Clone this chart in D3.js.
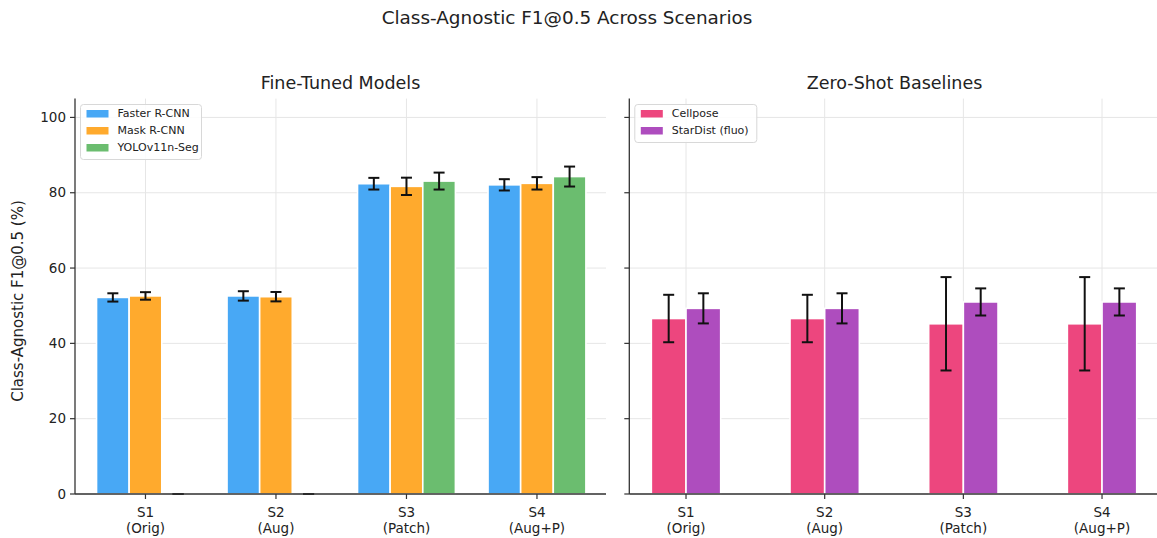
<!DOCTYPE html>
<html>
<head>
<meta charset="utf-8">
<script src="https://cdn.jsdelivr.net/npm/d3@7"></script>
<style>
  body { margin: 0; background: #fff; }
  svg { display: block; font-family: "DejaVu Sans", sans-serif; }
</style>
</head>
<body>
<svg id="chart" width="1157" height="538"></svg>
<script>
// Scenario categories (two-line tick labels)
const scenarios = ["S1", "S2", "S3", "S4"];
const scenarioSub = ["(Orig)", "(Aug)", "(Patch)", "(Aug+P)"];

// Fine-tuned models: mean F1@0.5 (%) and std
const ftModels = ["Faster R-CNN", "Mask R-CNN", "YOLOv11n-Seg"];
const ftColors = ["#42A5F5", "#FFA726", "#66BB6A"];
const fasterMean = [52.2, 52.6, 82.4, 82.1];
const fasterStd  = [1.1, 1.25, 1.55, 1.5];
const maskMean   = [52.6, 52.4, 81.7, 82.5];
const maskStd    = [1.0, 1.25, 2.3, 1.65];
const yoloMean   = [0, 0, 83.1, 84.3];
const yoloStd    = [0, 0, 2.25, 2.65];

// Zero-shot baselines
const zsModels = ["Cellpose", "StarDist (fluo)"];
const zsColors = ["#EC407A", "#AB47BC"];
const cellposeMean = [46.6, 46.6, 45.2, 45.2];
const cellposeStd  = [6.3, 6.3, 12.4, 12.4];
const stardistMean = [49.3, 49.3, 51.0, 51.0];
const stardistStd  = [4.0, 4.0, 3.6, 3.6];

const yTicks = [0, 20, 40, 60, 80, 100];

const svg = d3.select("#chart");
const plotTop = 98.6, plotBottom = 494;
const y = d3.scaleLinear().domain([0, 105]).range([plotBottom, plotTop]);

const textColor = "#222";
const spineColor = "#333";
const gridColor = "#e6e6e6";

// Figure title
svg.append("text")
  .attr("x", 567).attr("y", 24)
  .attr("text-anchor", "middle")
  .attr("font-size", 18.4).attr("fill", textColor)
  .text("Class-Agnostic F1@0.5 Across Scenarios");

// Shared y-axis label
svg.append("text")
  .attr("transform", `translate(23,301) rotate(-90)`)
  .attr("text-anchor", "middle")
  .attr("font-size", 15).attr("fill", textColor)
  .text("Class-Agnostic F1@0.5 (%)");

function panel(opts) {
  const { x0, x1, xDomain, title, titleX, series, showYLabels, legendWidth } = opts;
  const x = d3.scaleLinear().domain(xDomain).range([x0, x1]);
  const g = svg.append("g");
  const n = series.length;
  const bw = 0.25;

  // Grid
  g.append("g").selectAll("line").data(yTicks).join("line")
    .attr("x1", x0).attr("x2", x1)
    .attr("y1", d => y(d)).attr("y2", d => y(d))
    .attr("stroke", gridColor).attr("stroke-width", 1);
  g.append("g").selectAll("line").data(scenarios).join("line")
    .attr("x1", (d, i) => x(i)).attr("x2", (d, i) => x(i))
    .attr("y1", plotTop).attr("y2", plotBottom)
    .attr("stroke", gridColor).attr("stroke-width", 1);

  // Bars
  series.forEach((s, si) => {
    const off = (si - (n - 1) / 2) * bw;
    g.append("g").selectAll("rect").data(s.mean).join("rect")
      .attr("x", (d, i) => x(i + off - bw / 2))
      .attr("width", x(bw) - x(0))
      .attr("y", d => y(d))
      .attr("height", d => y(0) - y(d))
      .attr("fill", s.color).attr("fill-opacity", 0.97)
      .attr("stroke", "#fff").attr("stroke-width", 1.6);
  });

  // Error bars
  series.forEach((s, si) => {
    const off = (si - (n - 1) / 2) * bw;
    const eg = g.append("g");
    s.mean.forEach((m, i) => {
      const cx = x(i + off);
      const lo = y(m - s.std[i]), hi = y(m + s.std[i]);
      eg.append("line").attr("x1", cx).attr("x2", cx).attr("y1", lo).attr("y2", hi)
        .attr("stroke", "#111").attr("stroke-width", 2);
      [lo, hi].forEach(yy => eg.append("line")
        .attr("x1", cx - 5.5).attr("x2", cx + 5.5).attr("y1", yy).attr("y2", yy)
        .attr("stroke", "#111").attr("stroke-width", 2));
    });
  });

  // Spines
  g.append("line").attr("x1", x0).attr("x2", x0).attr("y1", plotTop).attr("y2", plotBottom)
    .attr("stroke", spineColor).attr("stroke-width", 1.3);
  g.append("line").attr("x1", x0).attr("x2", x1).attr("y1", plotBottom).attr("y2", plotBottom)
    .attr("stroke", spineColor).attr("stroke-width", 1.3);

  // Y ticks
  yTicks.forEach(t => {
    g.append("line").attr("x1", x0 - 5).attr("x2", x0).attr("y1", y(t)).attr("y2", y(t))
      .attr("stroke", spineColor).attr("stroke-width", 1.2);
    if (showYLabels) {
      g.append("text").attr("x", x0 - 9).attr("y", y(t)).attr("dy", "0.35em")
        .attr("text-anchor", "end").attr("font-size", 13.5).attr("fill", textColor)
        .text(t);
    }
  });

  // X ticks
  scenarios.forEach((sname, i) => {
    g.append("line").attr("x1", x(i)).attr("x2", x(i)).attr("y1", plotBottom).attr("y2", plotBottom + 5)
      .attr("stroke", spineColor).attr("stroke-width", 1.2);
    g.append("text").attr("x", x(i)).attr("y", plotBottom + 23)
      .attr("text-anchor", "middle").attr("font-size", 13.5).attr("fill", textColor)
      .text(sname);
    g.append("text").attr("x", x(i)).attr("y", plotBottom + 39)
      .attr("text-anchor", "middle").attr("font-size", 13.5).attr("fill", textColor)
      .text(scenarioSub[i]);
  });

  // Panel title
  g.append("text").attr("x", titleX)
    .attr("y", 88.5).attr("text-anchor", "middle")
    .attr("font-size", 17.5).attr("fill", textColor)
    .text(title);

  // Legend
  const lx = x0 + 5.5, ly = 104.5, rowH = 17;
  const lg = g.append("g");
  lg.append("rect").attr("x", lx).attr("y", ly)
    .attr("width", legendWidth).attr("height", series.length * rowH + 4)
    .attr("rx", 3).attr("fill", "#fff").attr("fill-opacity", 0.85)
    .attr("stroke", "#d8d8d8").attr("stroke-width", 1);
  series.forEach((s, si) => {
    const ry = ly + 9 + si * rowH;
    lg.append("rect").attr("x", lx + 6).attr("y", ry - 3.5).attr("width", 22).attr("height", 7.5)
      .attr("fill", s.color).attr("fill-opacity", 0.97);
    lg.append("text").attr("x", lx + 37).attr("y", ry).attr("dy", "0.35em")
      .attr("font-size", 11).attr("fill", textColor).text(s.name);
  });
}

panel({
  x0: 75, x1: 606, xDomain: [-0.54, 3.529],
  title: "Fine-Tuned Models", titleX: 340.5, showYLabels: true, legendWidth: 121,
  series: [
    { name: ftModels[0], color: ftColors[0], mean: fasterMean, std: fasterStd },
    { name: ftModels[1], color: ftColors[1], mean: maskMean, std: maskStd },
    { name: ftModels[2], color: ftColors[2], mean: yoloMean, std: yoloStd }
  ]
});

panel({
  x0: 629.3, x1: 1160, xDomain: [-0.409, 3.418],
  title: "Zero-Shot Baselines", titleX: 894.5, showYLabels: false, legendWidth: 122,
  series: [
    { name: zsModels[0], color: zsColors[0], mean: cellposeMean, std: cellposeStd },
    { name: zsModels[1], color: zsColors[1], mean: stardistMean, std: stardistStd }
  ]
});
</script>
</body>
</html>
